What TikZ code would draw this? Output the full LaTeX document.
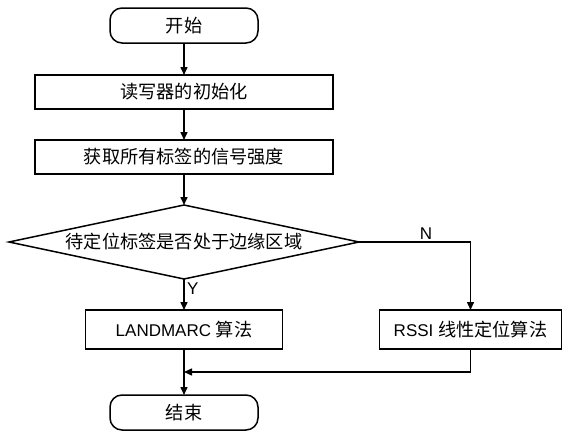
\documentclass[tikz,border=0pt]{standalone}
\usepackage{fontspec}
\setmainfont{Liberation Sans}
\newfontfamily\cjk{Noto Sans CJK SC}[Scale=1.07]
\usetikzlibrary{positioning,arrows.meta,shapes.geometric}

\begin{document}
\begin{tikzpicture}[font=\fontsize{17}{20}\selectfont,>={Triangle[length=8pt,width=7pt]},line width=1.5pt,
  every node/.append style={outer sep=0pt},
  term/.style={draw,rounded corners=12pt,minimum width=148pt,minimum height=35pt,inner sep=0pt},
  proc/.style={draw,minimum width=298pt,minimum height=34pt,inner sep=0pt},
  algo/.style={draw,minimum height=39pt,inner sep=0pt},
  decide/.style={draw,diamond,aspect=4.7,minimum width=350pt,minimum height=74pt,inner sep=0pt},
  lbl/.style={inner sep=3pt}]
  \useasboundingbox (0,0) rectangle (563pt,-434pt);
  \node[term] (start) at (184pt,-25.5pt) {\cjk 开始};
  \node[proc,below=32pt of start] (init) {\cjk 读写器的初始化};
  \node[proc,below=31pt of init] (rss) {\cjk 获取所有标签的信号强度};
  \node[decide,below=31pt of rss] (edge) {\cjk 待定位标签是否处于边缘区域};
  \node[algo,minimum width=197pt,below=31pt of edge] (lm) {LANDMARC {\cjk 算法}};
  \node[algo,minimum width=182pt,right=97pt of lm] (rssi) {RSSI {\cjk 线性定位算法}};
  \node[term,below=46pt of lm] (stop) {\cjk 结束};
  \coordinate[below=23pt of lm] (join);
  \draw[->] (start)--(init); \draw[->] (init)--(rss); \draw[->] (rss)--(edge);
  \draw[->] (edge)--node[lbl,right,pos=0.3]{Y}(lm);
  \draw[->] (edge.east) -| node[lbl,above,pos=0.3]{N} (rssi.north);
  \draw[->] (lm)--(stop);
  \draw[->] (rssi.south) |- (join);
\end{tikzpicture}
\end{document}
